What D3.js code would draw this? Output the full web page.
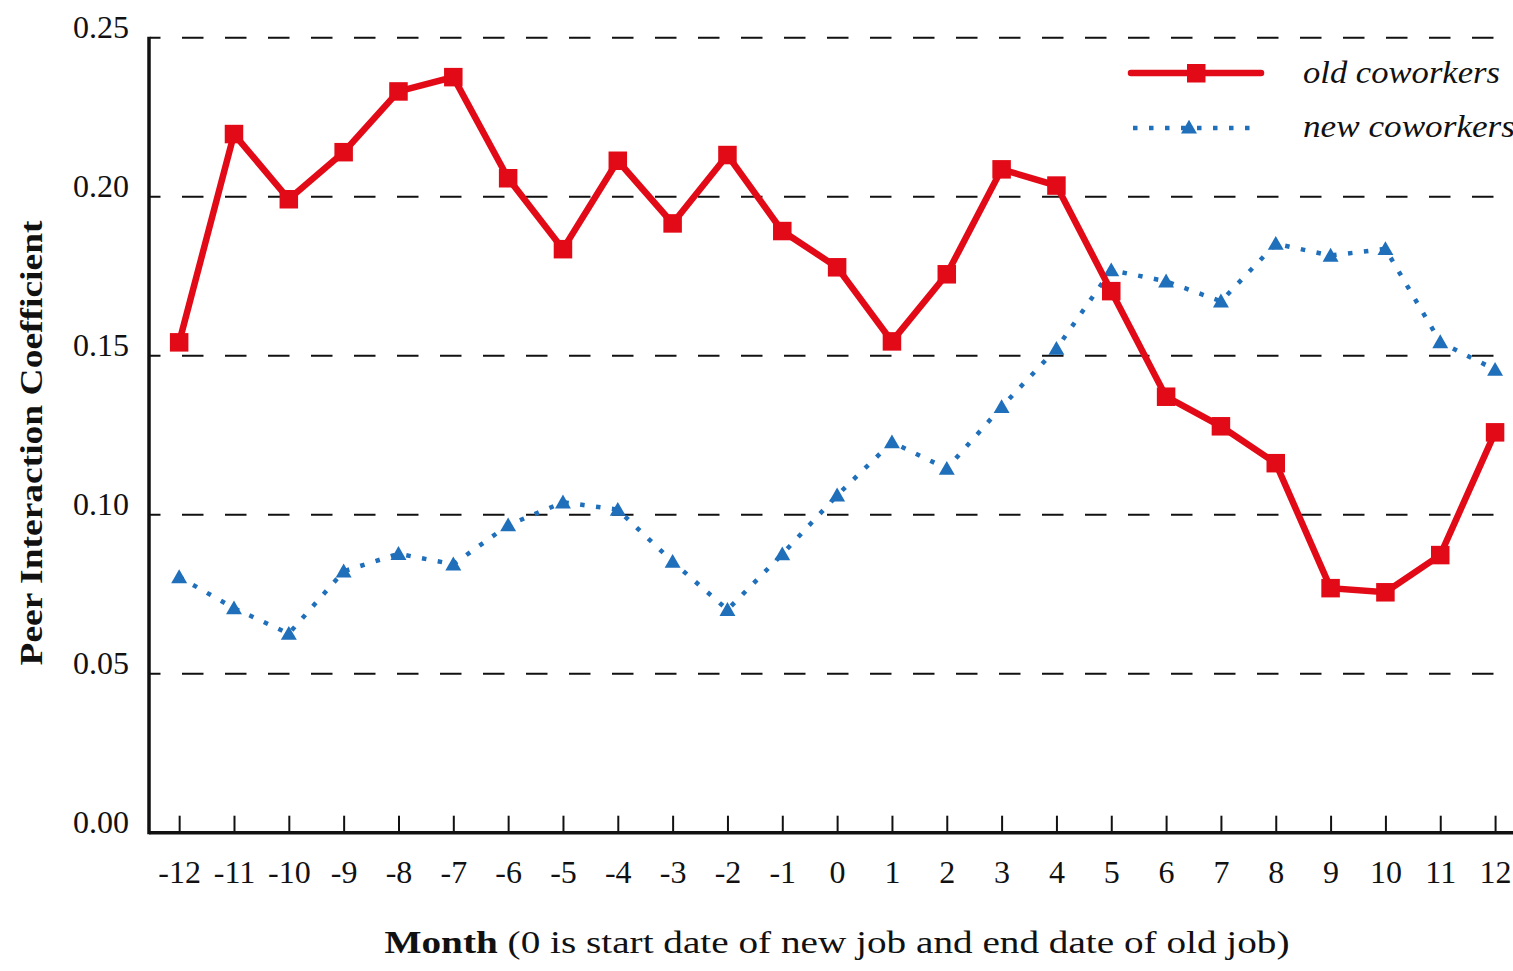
<!DOCTYPE html>
<html>
<head>
<meta charset="utf-8">
<script src="https://cdn.jsdelivr.net/npm/d3@7"></script>
<style>
  body { margin: 0; background: #fff; }
  svg text { font-family: "Liberation Serif", "DejaVu Serif", serif; fill: #111; }
</style>
</head>
<body>
<div id="chart"></div>
<script>
// months from -12 to 12
var months = [-12,-11,-10,-9,-8,-7,-6,-5,-4,-3,-2,-1,0,1,2,3,4,5,6,7,8,9,10,11,12]
var oldCoworkers = [0.1542,0.2197,0.1992,0.2140,0.2331,0.2376,0.2058,0.1835,0.2113,0.1916,0.2131,0.1892,0.1778,
                    0.1545,0.1756,0.2086,0.2035,0.1703,0.1371,0.1278,0.1162,0.0769,0.0756,0.0873,0.1259]
var newCoworkers = [0.0804,0.0706,0.0626,0.0822,0.0877,0.0844,0.0967,0.1039,0.1016,0.0852,0.0701,0.0876,0.1061,
                    0.1228,0.1145,0.1339,0.1522,0.1769,0.1734,0.1671,0.1852,0.1815,0.1836,0.1543,0.1456]
var yTicks = [0, 0.05, 0.10, 0.15, 0.20, 0.25]
var seriesNames = ["old coworkers", "new coworkers"]

var width = 1513, height = 971
var red = "#e20a16", blue = "#1f6fba"

var svg = d3.select("#chart")
  .append("svg")
    .attr("width", width)
    .attr("height", height)

var x = d3.scaleLinear()
    .domain([-12.55, 12.55])
    .range([149, 149 + 25.1 * 54.83])

var y = d3.scaleLinear()
    .domain([0, 0.25])
    .range([832.7, 37.7])

// dashed gridlines (the first dash doubles as the tick)
svg.append("g")
  .selectAll("line")
  .data(yTicks.slice(1))
  .enter()
  .append("line")
    .attr("x1", 150)
    .attr("x2", width + 20)
    .attr("y1", function(d){ return y(d) })
    .attr("y2", function(d){ return y(d) })
    .attr("stroke", "#111")
    .attr("stroke-width", 2)
    .attr("stroke-dasharray", "21.5 21.5")
    .attr("stroke-dashoffset", 11)

// y tick labels, baseline sits on the tick value
svg.append("g")
  .selectAll("text")
  .data(yTicks)
  .enter()
  .append("text")
    .attr("x", 129)
    .attr("y", function(d){ return y(d) })
    .attr("text-anchor", "end")
    .style("font-size", "32px")
    .text(function(d){ return d3.format(".2f")(d) })

// x axis with inward ticks
var xAxis = d3.axisBottom(x)
    .tickValues(months)
    .tickSize(-17)
    .tickFormat(d3.format("d"))

var gx = svg.append("g")
    .attr("transform", "translate(0," + y(0) + ")")
    .call(xAxis)
gx.select(".domain").remove()
gx.selectAll(".tick line").attr("stroke", "#111").attr("stroke-width", 2)
gx.selectAll(".tick text")
    .attr("y", 50)
    .attr("dy", 0)
    .style("font-family", "Liberation Serif, serif")
    .style("font-size", "32px")
    .attr("fill", "#111")
    .text(function(d){ return d < 0 ? "-" + Math.abs(d) : d })

// axis spines
svg.append("line")
    .attr("x1", 149).attr("x2", width)
    .attr("y1", y(0)).attr("y2", y(0))
    .attr("stroke", "#111").attr("stroke-width", 3.5)
svg.append("line")
    .attr("x1", 149).attr("x2", 149)
    .attr("y1", y(0.25) - 1).attr("y2", y(0) + 1.5)
    .attr("stroke", "#111").attr("stroke-width", 3.5)

// new coworkers: dotted line + triangles
var lineGen = d3.line()
    .x(function(d, i){ return x(months[i]) })
    .y(function(d){ return y(d) })

svg.append("path")
    .datum(newCoworkers)
    .attr("fill", "none")
    .attr("stroke", blue)
    .attr("stroke-width", 4.5)
    .attr("stroke-dasharray", "4.5 11.5")
    .attr("d", lineGen)

var tri = d3.symbol().type(d3.symbolTriangle).size(110)
svg.append("g")
  .selectAll("path")
  .data(newCoworkers)
  .enter()
  .append("path")
    .attr("d", tri)
    .attr("fill", blue)
    .attr("transform", function(d, i){ return "translate(" + x(months[i]) + "," + (y(d) + 1.5) + ")" })

// old coworkers: solid line + squares
svg.append("path")
    .datum(oldCoworkers)
    .attr("fill", "none")
    .attr("stroke", red)
    .attr("stroke-width", 6.5)
    .attr("d", lineGen)

svg.append("g")
  .selectAll("rect")
  .data(oldCoworkers)
  .enter()
  .append("rect")
    .attr("x", function(d, i){ return x(months[i]) - 9.25 })
    .attr("y", function(d){ return y(d) - 9.25 })
    .attr("width", 18.5)
    .attr("height", 18.5)
    .attr("fill", red)

// legend
var legend = svg.append("g")
legend.append("line")
    .attr("x1", 1131).attr("x2", 1261).attr("y1", 73).attr("y2", 73)
    .attr("stroke", red).attr("stroke-width", 6.5).attr("stroke-linecap", "round")
legend.append("rect")
    .attr("x", 1187).attr("y", 64).attr("width", 18.5).attr("height", 18.5)
    .attr("fill", red)
legend.append("line")
    .attr("x1", 1133).attr("x2", 1255).attr("y1", 128).attr("y2", 128)
    .attr("stroke", blue).attr("stroke-width", 4.5).attr("stroke-dasharray", "4.5 11.5")
legend.append("path")
    .attr("d", tri)
    .attr("fill", blue)
    .attr("transform", "translate(1189,129)")
legend.selectAll("text")
  .data(seriesNames)
  .enter()
  .append("text")
    .attr("x", 1303)
    .attr("y", function(d, i){ return 83 + i * 54 })
    .attr("textLength", function(d, i){ return i == 0 ? 197 : 212 })
    .attr("lengthAdjust", "spacingAndGlyphs")
    .style("font-size", "31px")
    .style("font-style", "italic")
    .text(function(d){ return d })

// axis titles
var xt = svg.append("text")
    .attr("x", 837)
    .attr("y", 953)
    .attr("text-anchor", "middle")
    .attr("textLength", 905)
    .attr("lengthAdjust", "spacingAndGlyphs")
    .style("font-size", "31px")
xt.append("tspan").style("font-weight", "bold").text("Month")
xt.append("tspan").text(" (0 is start date of new job and end date of old job)")

svg.append("text")
    .attr("transform", "translate(42,443) rotate(-90)")
    .attr("text-anchor", "middle")
    .attr("textLength", 445)
    .attr("lengthAdjust", "spacingAndGlyphs")
    .style("font-size", "31px")
    .style("font-weight", "bold")
    .text("Peer Interaction Coefficient")
</script>
</body>
</html>
